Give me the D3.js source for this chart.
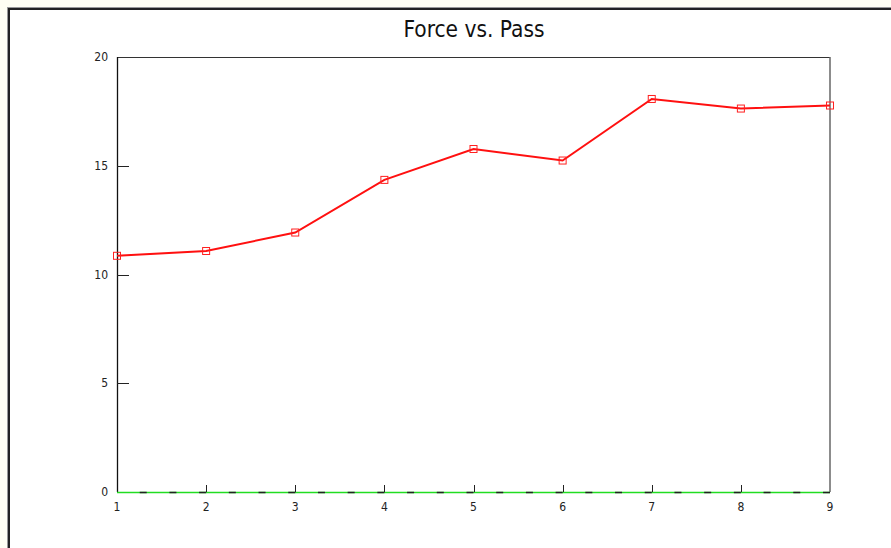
<!DOCTYPE html>
<html lang="en">
<head>
  <meta charset="UTF-8">
  <style>
body {
    margin: 0;
    background: #fffff3;
    font-family: "DejaVu Sans Condensed", "DejaVu Sans", sans-serif;
}

#wrapper {
    position: absolute;
    left: 8px;
    top: 8px;
    width: 900px;
    height: 560px;
    background: #fff;
    border-left: 2px solid #222;
    border-top: 2px solid #222;
    box-shadow: -1px -1px 0 #999;
}

.title {
    font-size: 22.5px;
    text-anchor: middle;
    fill: #111;
}

.tick-label {
    font-size: 12px;
    fill: #222;
}
  </style>
  <title>Force vs. Pass</title>
</head>
<body>

<div id="wrapper"></div>

<script src="https://cdnjs.cloudflare.com/ajax/libs/d3/7.8.5/d3.min.js"></script>
<script>
    // DATA
    const chartTitle = "Force vs. Pass"
    const passes = [1, 2, 3, 4, 5, 6, 7, 8, 9]
    const force = [10.86, 11.08, 11.93, 14.35, 15.77, 15.24, 18.07, 17.63, 17.77]
    const yTicks = [0, 5, 10, 15, 20]

    let dimensions = {
      width: 891,
      height: 548,
      margin: {
        top: 57,
        right: 61,
        bottom: 56,
        left: 117,
      },
    }
    dimensions.boundedWidth = dimensions.width
      - dimensions.margin.left
      - dimensions.margin.right
    dimensions.boundedHeight = dimensions.height
      - dimensions.margin.top
      - dimensions.margin.bottom

    const xScale = d3.scaleLinear()
      .domain([1, 9])
      .range([0, dimensions.boundedWidth])

    const yScale = d3.scaleLinear()
      .domain([0, 20])
      .range([dimensions.boundedHeight, 0])

    // svg sits in page coords, over the framed panel
    const svg = d3.select("body")
      .append("svg")
      .attr("width", dimensions.width)
      .attr("height", dimensions.height)
      .style("position", "absolute")
      .style("left", "0px")
      .style("top", "0px")

    svg.append("text")
      .attr("class", "title")
      .attr("x", 474)
      .attr("y", 37)
      .text(chartTitle)

    const bounds = svg.append("g")
      .attr("transform", `translate(${dimensions.margin.left},${dimensions.margin.top})`)

    // frame: top + right
    bounds.append("line")
      .attr("x1", 0).attr("x2", dimensions.boundedWidth)
      .attr("y1", 0.5).attr("y2", 0.5)
      .attr("stroke", "#333")
    bounds.append("line")
      .attr("x1", dimensions.boundedWidth).attr("x2", dimensions.boundedWidth)
      .attr("y1", 0).attr("y2", dimensions.boundedHeight)
      .attr("stroke", "#666")
      .attr("stroke-width", 1.5)

    // y axis
    bounds.append("line")
      .attr("x1", 0.5).attr("x2", 0.5)
      .attr("y1", 0).attr("y2", dimensions.boundedHeight)
      .attr("stroke", "#111")
      .attr("stroke-width", 1.3)

    bounds.selectAll(".ytick")
      .data(yTicks.slice(1, -1))
      .enter().append("line")
        .attr("x1", 0).attr("x2", 12)
        .attr("y1", d => Math.round(yScale(d)) + 0.5)
        .attr("y2", d => Math.round(yScale(d)) + 0.5)
        .attr("stroke", "#222")

    bounds.selectAll(".ylabel")
      .data(yTicks)
      .enter().append("text")
        .attr("class", "tick-label")
        .attr("x", -9)
        .attr("y", d => yScale(d) + 4)
        .attr("text-anchor", "end")
        .text(d => d)

    // x axis: green line with black dashes
    bounds.append("line")
      .attr("x1", 0).attr("x2", dimensions.boundedWidth)
      .attr("y1", dimensions.boundedHeight + 0.5).attr("y2", dimensions.boundedHeight + 0.5)
      .attr("stroke", "#22dd22")
      .attr("stroke-width", 1.5)

    const step = xScale(2) - xScale(1)
    bounds.append("line")
      .attr("x1", 0).attr("x2", dimensions.boundedWidth)
      .attr("y1", dimensions.boundedHeight + 0.5).attr("y2", dimensions.boundedHeight + 0.5)
      .attr("stroke", "#222")
      .attr("stroke-width", 1.5)
      .attr("stroke-dasharray", `7,${step / 3 - 7}`)
      .attr("stroke-dashoffset", -(step / 3 - 7))

    bounds.selectAll(".xtick")
      .data(passes.slice(1, -1))
      .enter().append("line")
        .attr("x1", d => Math.round(xScale(d)) + 0.5)
        .attr("x2", d => Math.round(xScale(d)) + 0.5)
        .attr("y1", dimensions.boundedHeight - 7)
        .attr("y2", dimensions.boundedHeight)
        .attr("stroke", "#222")

    bounds.selectAll(".xlabel")
      .data(passes)
      .enter().append("text")
        .attr("class", "tick-label")
        .attr("x", d => xScale(d))
        .attr("y", dimensions.boundedHeight + 19)
        .attr("text-anchor", "middle")
        .text(d => d)

    // series
    const lineGenerator = d3.line()
      .x((d, i) => xScale(passes[i]))
      .y(d => yScale(d))

    bounds.append("path")
      .attr("d", lineGenerator(force))
      .attr("fill", "none")
      .attr("stroke", "#ff1010")
      .attr("stroke-width", 2)

    bounds.selectAll(".marker")
      .data(force)
      .enter().append("rect")
        .attr("x", (d, i) => xScale(passes[i]) - 3.5)
        .attr("y", d => yScale(d) - 3.5)
        .attr("width", 7)
        .attr("height", 7)
        .attr("fill", "none")
        .attr("stroke", "#ff2020")
        .attr("stroke-width", 1)
</script>

</body>
</html>
